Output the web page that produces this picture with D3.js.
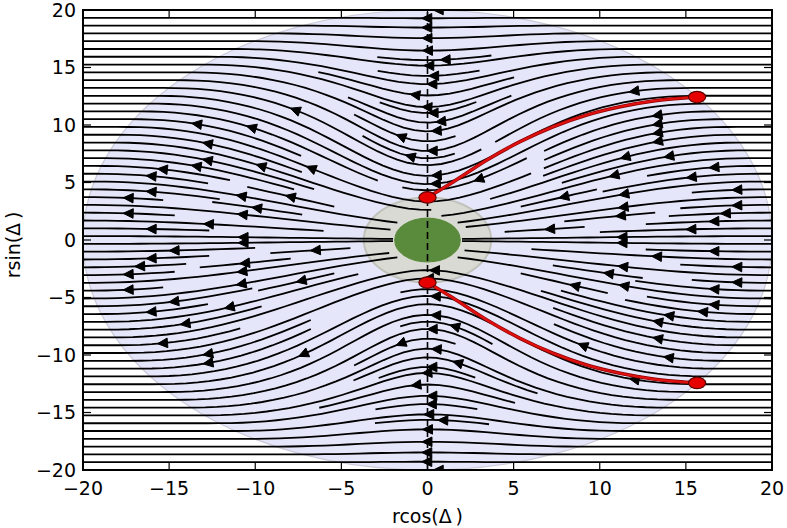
<!DOCTYPE html>
<html>
<head>
<meta charset="utf-8">
<script src="https://cdn.jsdelivr.net/npm/d3@7"></script>
<style>
  body { margin: 0; background: #fff; }
  text { font-family: "DejaVu Sans", sans-serif; fill: #000; }
</style>
</head>
<body>
<svg id="chart" width="787" height="528"></svg>
<script>
const width = 787;
const height = 528;
const margin = { left: 83, right: 15, top: 10, bottom: 58 };

// axis ticks
const xTicks = [-20, -15, -10, -5, 0, 5, 10, 15, 20];
const yTicks = [-20, -15, -10, -5, 0, 5, 10, 15, 20];

// discs: outer field region, grey shell, green core (radius in data units)
const discRadius = [20, 3.7, 1.9];
const discFill = ["#e6e6fa", "#dadad4", "#5a8a3b"];
const discEdge = ["#cacad9", "#c2c2bd", "#5a8a3b"];

// field shape: how strongly lines are pulled toward the axis inside the disc
const pullRate = 0.0039;
const streamDensity = 2;

// red trajectories
const redUpperX = [0, 1.51, 3.45, 5.37, 7.29, 9.24, 11.18, 13.11, 15.05, 15.65];
const redUpperY = [3.7, 5.07, 6.96, 8.55, 9.85, 10.87, 11.59, 12.09, 12.37, 12.43];
const redLowerX = [0, 1.51, 3.45, 5.37, 7.29, 9.24, 11.18, 13.11, 15.05, 15.65];
const redLowerY = [-3.7, -5.07, -6.96, -8.55, -9.85, -10.87, -11.59, -12.09, -12.37, -12.43];
const markerX = [0, 15.65, 0, 15.65];
const markerY = [3.7, 12.43, -3.7, -12.43];
const markerR = 0.5;

const svg = d3.select("#chart");
const x = d3.scaleLinear().domain([-20, 20]).range([margin.left, width - margin.right]);
const y = d3.scaleLinear().domain([-20, 20]).range([height - margin.bottom, margin.top]);

// ---- vector field on a regular grid ----
const fieldN = 101;
const gx = d3.range(fieldN).map(i => -20 + 40 * i / (fieldN - 1));
const gy = gx.slice();
const U = new Float64Array(fieldN * fieldN);
const V = new Float64Array(fieldN * fieldN);
const R = discRadius[0];
for (let j = 0; j < fieldN; j++) {
  for (let i = 0; i < fieldN; i++) {
    const px = gx[i], py = gy[j];
    const r = Math.hypot(px, py);
    const k = j * fieldN + i;
    if (r < discRadius[2]) { U[k] = NaN; V[k] = NaN; continue; }
    let G = 1, dG = 0;
    if (r < R) {
      G = Math.exp(pullRate * (R - r) * (R - r));
      dG = -2 * pullRate * (R - r) * G;
    }
    U[k] = -(G + py * py * dG / r);
    V[k] = py * dG * px / r;
  }
}

// ---- streamline placement (same scheme as matplotlib streamplot) ----
function streamTrajectories(xs, ys, u, v, density) {
  const nx = xs.length, ny = ys.length;
  const dx = xs[1] - xs[0], dy = ys[1] - ys[0];
  const mnx = Math.floor(30 * density), mny = mnx;
  const mask = new Uint8Array(mnx * mny);
  const g2mX = (mnx - 1) / (nx - 1), g2mY = (mny - 1) / (ny - 1);
  const minlength = 0.1, maxlength = 4.0;
  const ug = new Float64Array(nx * ny), vg = new Float64Array(nx * ny), sp = new Float64Array(nx * ny);
  for (let k = 0; k < nx * ny; k++) {
    ug[k] = u[k] / dx;
    vg[k] = v[k] / dy;
    sp[k] = Math.hypot(ug[k] / (nx - 1), vg[k] / (ny - 1));
  }
  const OOB = 1, TERM = 2, BAD = 3;
  let cur = null, traj = [];

  function interp(a, xi, yi) {
    const i = Math.floor(xi), j = Math.floor(yi);
    const i1 = i === nx - 1 ? i : i + 1;
    const j1 = j === ny - 1 ? j : j + 1;
    const xt = xi - i, yt = yi - j;
    const a0 = a[j * nx + i] * (1 - xt) + a[j * nx + i1] * xt;
    const a1 = a[j1 * nx + i] * (1 - xt) + a[j1 * nx + i1] * xt;
    return a0 * (1 - yt) + a1 * yt;
  }
  const inside = (xi, yi) => xi >= 0 && xi <= nx - 1 && yi >= 0 && yi <= ny - 1;
  function markCell(xg, yg) {
    const xm = Math.round(xg * g2mX), ym = Math.round(yg * g2mY);
    if (cur && cur[0] === xm && cur[1] === ym) return;
    const k = ym * mnx + xm;
    if (mask[k] === 0) { traj.push(k); mask[k] = 1; cur = [xm, ym]; }
    else throw BAD;
  }
  function fwd(xi, yi) {
    if (!inside(xi, yi)) throw OOB;
    const s = interp(sp, xi, yi);
    if (!(s > 0)) throw TERM;
    return [interp(ug, xi, yi) / s, interp(vg, xi, yi) / s];
  }
  function bwd(xi, yi) {
    const d = fwd(xi, yi);
    return [-d[0], -d[1]];
  }
  function eulerStep(pts, f) {
    const [xi, yi] = pts[pts.length - 1];
    let c;
    try { c = f(xi, yi); } catch (e) { return 0; }
    const [cx, cy] = c;
    const dsx = cx === 0 ? Infinity : cx < 0 ? xi / -cx : (nx - 1 - xi) / cx;
    const dsy = cy === 0 ? Infinity : cy < 0 ? yi / -cy : (ny - 1 - yi) / cy;
    const ds = Math.min(dsx, dsy);
    pts.push([xi + cx * ds, yi + cy * ds]);
    return ds;
  }
  function rk12(x0, y0, f) {
    const maxerror = 0.003, maxds = Math.min(1 / mnx, 1 / mny, 0.1);
    let ds = maxds, stotal = 0, xi = x0, yi = y0;
    const pts = [];
    while (true) {
      let k1, k2;
      try {
        if (inside(xi, yi)) pts.push([xi, yi]); else throw OOB;
        k1 = f(xi, yi);
        k2 = f(xi + ds * k1[0], yi + ds * k1[1]);
      } catch (e) {
        if (e === OOB && pts.length) stotal += eulerStep(pts, f);
        break;
      }
      const dx1 = ds * k1[0], dy1 = ds * k1[1];
      const dx2 = ds * 0.5 * (k1[0] + k2[0]), dy2 = ds * 0.5 * (k1[1] + k2[1]);
      const err = Math.hypot((dx2 - dx1) / (nx - 1), (dy2 - dy1) / (ny - 1));
      if (err < maxerror) {
        xi += dx2; yi += dy2;
        try {
          if (!inside(xi, yi)) throw BAD;
          markCell(xi, yi);
        } catch (e) { break; }
        if (stotal + ds > maxlength) break;
        stotal += ds;
      }
      ds = err === 0 ? maxds : Math.min(maxds, 0.85 * ds * Math.sqrt(maxerror / err));
    }
    return [stotal, pts];
  }
  function integrate(x0, y0) {
    traj = []; cur = null;
    try { markCell(x0, y0); } catch (e) { return null; }
    const [s1, back] = rk12(x0, y0, bwd);
    cur = [Math.round(x0 * g2mX), Math.round(y0 * g2mY)];
    const [s2, fore] = rk12(x0, y0, fwd);
    if (s1 + s2 > minlength) return back.reverse().concat(fore.slice(1));
    for (const k of traj) mask[k] = 0;
    return null;
  }
  function* startPoints() {
    let xFirst = 0, yFirst = 1, xLast = mnx - 1, yLast = mny - 1;
    let xm = 0, ym = 0, dir = "right";
    for (let n = 0; n < mnx * mny; n++) {
      yield [xm, ym];
      if (dir === "right") { xm++; if (xm >= xLast) { xLast--; dir = "up"; } }
      else if (dir === "up") { ym++; if (ym >= yLast) { yLast--; dir = "left"; } }
      else if (dir === "left") { xm--; if (xm <= xFirst) { xFirst++; dir = "down"; } }
      else { ym--; if (ym <= yFirst) { yFirst++; dir = "right"; } }
    }
  }

  const lines = [];
  for (const [xm, ym] of startPoints()) {
    if (mask[ym * mnx + xm]) continue;
    const t = integrate(xm / g2mX, ym / g2mY);
    if (t) lines.push(t.map(([a, b]) => [xs[0] + a * dx, ys[0] + b * dy]));
  }
  return lines;
}

const streamLines = streamTrajectories(gx, gy, U, V, streamDensity);

// ---- drawing ----
svg.append("defs").append("clipPath").attr("id", "plotClip")
  .append("rect")
  .attr("x", margin.left).attr("y", margin.top)
  .attr("width", x(20) - x(-20)).attr("height", y(-20) - y(20));

const plot = svg.append("g").attr("clip-path", "url(#plotClip)");

plot.selectAll("ellipse.disc")
  .data(discRadius)
  .join("ellipse")
  .attr("class", "disc")
  .attr("cx", x(0))
  .attr("cy", y(0))
  .attr("rx", d => x(d) - x(0))
  .attr("ry", d => y(0) - y(d))
  .attr("fill", (d, i) => discFill[i])
  .attr("stroke", (d, i) => discEdge[i])
  .attr("stroke-width", (d, i) => i === 1 ? 2 : 1.2);

plot.append("line")
  .attr("x1", x(0)).attr("x2", x(0))
  .attr("y1", y(-20)).attr("y2", y(20))
  .attr("stroke", "#000")
  .attr("stroke-width", 1.6)
  .attr("stroke-dasharray", "7,4");

const line = d3.line().x(d => x(d[0])).y(d => y(d[1]));

plot.append("g")
  .selectAll("path")
  .data(streamLines)
  .join("path")
  .attr("d", line)
  .attr("fill", "none")
  .attr("stroke", "#000")
  .attr("stroke-width", 1.8);

// arrow heads at the middle of each streamline
const arrows = streamLines.filter(p => p.length > 1).map(p => {
  const s = [];
  let acc = 0;
  for (let i = 1; i < p.length; i++) {
    acc += Math.hypot(p[i][0] - p[i - 1][0], p[i][1] - p[i - 1][1]);
    s.push(acc);
  }
  let n = s.findIndex(v => v >= acc / 2);
  if (n < 0) n = 0;
  const tail = p[n];
  const next = p[Math.min(n + 1, p.length - 1)];
  const head = [(tail[0] + next[0]) / 2, (tail[1] + next[1]) / 2];
  return { tail, head };
});

const headLen = 10, headHalf = 4.8;
plot.append("g")
  .selectAll("path")
  .data(arrows)
  .join("path")
  .attr("d", d => {
    const hx = x(d.head[0]), hy = y(d.head[1]);
    let ux = hx - x(d.tail[0]), uy = hy - y(d.tail[1]);
    const len = Math.hypot(ux, uy) || 1;
    ux /= len; uy /= len;
    const bx = hx - ux * headLen, by = hy - uy * headLen;
    return `M${hx},${hy}L${bx - uy * headHalf},${by + ux * headHalf}L${bx + uy * headHalf},${by - ux * headHalf}Z`;
  })
  .attr("fill", "#000")
  .attr("stroke", "#000")
  .attr("stroke-width", 1)
  .attr("stroke-linejoin", "miter");

// red trajectories
const redLine = d3.line().curve(d3.curveCatmullRom).x(d => x(d[0])).y(d => y(d[1]));
const redPaths = [
  d3.zip(redUpperX, redUpperY),
  d3.zip(redLowerX, redLowerY)
];
plot.append("g")
  .selectAll("path")
  .data(redPaths)
  .join("path")
  .attr("d", redLine)
  .attr("fill", "none")
  .attr("stroke", "#8c0000")
  .attr("stroke-width", 3.6);
plot.append("g")
  .selectAll("path")
  .data(redPaths)
  .join("path")
  .attr("d", redLine)
  .attr("fill", "none")
  .attr("stroke", "#e01010")
  .attr("stroke-width", 2.2);

plot.append("g")
  .selectAll("ellipse")
  .data(d3.zip(markerX, markerY))
  .join("ellipse")
  .attr("cx", d => x(d[0]))
  .attr("cy", d => y(d[1]))
  .attr("rx", x(markerR) - x(0))
  .attr("ry", y(0) - y(markerR))
  .attr("fill", "#e60000")
  .attr("stroke", "#5a0000")
  .attr("stroke-width", 1.2);

// ---- axes frame, ticks and labels ----
const tickLen = 8;
const fmt = v => (v < 0 ? "\u2212" : "") + Math.abs(v);
const frame = svg.append("g");

frame.append("rect")
  .attr("x", x(-20)).attr("y", y(20))
  .attr("width", x(20) - x(-20)).attr("height", y(-20) - y(20))
  .attr("fill", "none")
  .attr("stroke", "#000")
  .attr("stroke-width", 2);

const xt = frame.append("g").selectAll("g").data(xTicks).join("g");
xt.append("line")
  .attr("x1", d => x(d)).attr("x2", d => x(d))
  .attr("y1", y(-20)).attr("y2", y(-20) - tickLen)
  .attr("stroke", "#000").attr("stroke-width", 1.2);
xt.append("line")
  .attr("x1", d => x(d)).attr("x2", d => x(d))
  .attr("y1", y(20)).attr("y2", y(20) + tickLen)
  .attr("stroke", "#000").attr("stroke-width", 1.2);
xt.append("text")
  .attr("x", d => x(d))
  .attr("y", y(-20) + 25)
  .attr("text-anchor", "middle")
  .attr("font-size", 19)
  .text(fmt);

const yt = frame.append("g").selectAll("g").data(yTicks).join("g");
yt.append("line")
  .attr("x1", x(-20)).attr("x2", x(-20) + tickLen)
  .attr("y1", d => y(d)).attr("y2", d => y(d))
  .attr("stroke", "#000").attr("stroke-width", 1.2);
yt.append("line")
  .attr("x1", x(20)).attr("x2", x(20) - tickLen)
  .attr("y1", d => y(d)).attr("y2", d => y(d))
  .attr("stroke", "#000").attr("stroke-width", 1.2);
yt.append("text")
  .attr("x", x(-20) - 7)
  .attr("y", d => y(d))
  .attr("dy", "0.36em")
  .attr("text-anchor", "end")
  .attr("font-size", 19)
  .text(fmt);

svg.append("text")
  .attr("x", x(0))
  .attr("y", 523)
  .attr("text-anchor", "middle")
  .attr("font-size", 19)
  .text("rcos(\u0394\u2009)");

svg.append("text")
  .attr("transform", `translate(20,${y(0) + 5}) rotate(-90)`)
  .attr("text-anchor", "middle")
  .attr("font-size", 19)
  .text("rsin(\u0394\u2009)");
</script>
</body>
</html>
